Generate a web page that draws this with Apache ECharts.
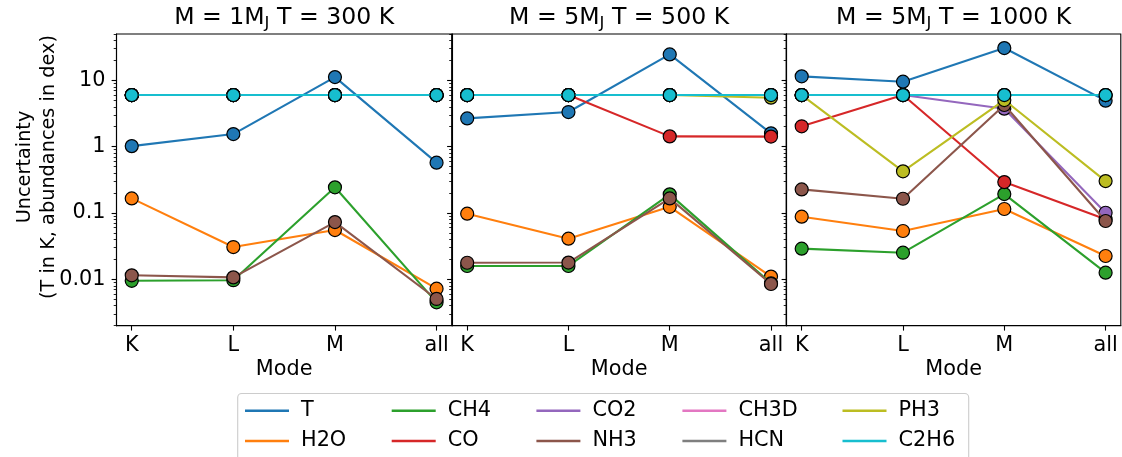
<!DOCTYPE html>
<html>
<head>
<meta charset="utf-8">
<title>Uncertainty per mode</title>
<script src="https://cdn.jsdelivr.net/npm/echarts@6/dist/echarts.min.js"></script>
<style>
  html, body { margin: 0; padding: 0; background: #ffffff; }
  #chart { width: 1122px; height: 457px; }
</style>
</head>
<body>
<div id="chart"></div>
<script>
// ---- data ----------------------------------------------------------------
const modes = ['K', 'L', 'M', 'all'];
const species = ['T', 'H2O', 'CH4', 'CO', 'CO2', 'NH3', 'CH3D', 'HCN', 'PH3', 'C2H6'];
const panelMass = ['1', '5', '5'];
const panelTemp = ['300', '500', '1000'];
const yMajorTicks = [0.01, 0.1, 1, 10];
const yMajorLabels = ['0.01', '0.1', '1', '10'];
const yMinorTicks = [
  0.002, 0.003, 0.004, 0.005, 0.006, 0.007, 0.008, 0.009,
  0.02, 0.03, 0.04, 0.05, 0.06, 0.07, 0.08, 0.09,
  0.2, 0.3, 0.4, 0.5, 0.6, 0.7, 0.8, 0.9,
  2, 3, 4, 5, 6, 7, 8, 9,
  20, 30, 40, 50
];

// One row per species (same order as `species`), one column per mode.
const uncertM1T300 = [
  [1.02, 1.55, 11.2, 0.574],        // T
  [0.166, 0.0307, 0.0554, 0.00723], // H2O
  [0.0095, 0.0097, 0.244, 0.0045],  // CH4
  [6.0, 6.0, 6.0, 6.0],             // CO
  [6.0, 6.0, 6.0, 6.0],             // CO2
  [0.0115, 0.0107, 0.073, 0.00506], // NH3
  [6.0, 6.0, 6.0, 6.0],             // CH3D
  [6.0, 6.0, 6.0, 6.0],             // HCN
  [6.0, 6.0, 6.0, 6.0],             // PH3
  [6.0, 6.0, 6.0, 6.0]              // C2H6
];
const uncertM5T500 = [
  [2.67, 3.33, 24.6, 1.59],         // T
  [0.0977, 0.041, 0.124, 0.011],    // H2O
  [0.0159, 0.0159, 0.191, 0.0087],  // CH4
  [6.0, 6.0, 1.43, 1.42],           // CO
  [6.0, 6.0, 6.0, 6.0],             // CO2
  [0.0178, 0.0179, 0.166, 0.0085],  // NH3
  [6.0, 6.0, 6.0, 6.0],             // CH3D
  [6.0, 6.0, 6.0, 6.0],             // HCN
  [6.0, 6.0, 6.0, 5.48],            // PH3
  [6.0, 6.0, 6.0, 6.0]              // C2H6
];
const uncertM5T1000 = [
  [11.5, 9.55, 30.7, 4.94],         // T
  [0.088, 0.0536, 0.115, 0.0225],   // H2O
  [0.029, 0.0252, 0.193, 0.0126],   // CH4
  [2.03, 6.0, 0.293, 0.0803],       // CO
  [6.0, 6.0, 3.74, 0.101],          // CO2
  [0.227, 0.164, 4.25, 0.0758],     // NH3
  [6.0, 6.0, 6.0, 6.0],             // CH3D
  [6.0, 6.0, 6.0, 6.0],             // HCN
  [6.0, 0.425, 5.05, 0.303],        // PH3
  [6.0, 6.0, 6.0, 6.0]              // C2H6
];
const panels = [uncertM1T300, uncertM5T500, uncertM5T1000];

// ---- styling / layout ------------------------------------------------------
const FONT = 'DejaVu Sans';
const colors = ['#1f77b4', '#ff7f0e', '#2ca02c', '#d62728', '#9467bd',
                '#8c564b', '#e377c2', '#7f7f7f', '#bcbd22', '#17becf'];
const gridBoxes = [
  { left: 116.5, width: 335.3 },
  { left: 452.0, width: 334.2 },
  { left: 786.5, width: 334.3 }
];
const gridTop = 34;
const gridHeight = 291.7;
const legendCols = [245, 391.7, 536.4, 682.4, 842.5];
const legendRows = [410.7, 441];

function fmtY(v) {
  for (let i = 0; i < yMajorTicks.length; i++) {
    if (Math.abs(Math.log10(v) - Math.log10(yMajorTicks[i])) < 1e-6) return yMajorLabels[i];
  }
  return '';
}

const grids = [], xAxes = [], yAxes = [], series = [], titles = [];

gridBoxes.forEach((g, p) => {
  grids.push({
    left: g.left, width: g.width, top: gridTop, height: gridHeight,
    show: true, borderColor: '#000', borderWidth: 1.1, backgroundColor: 'transparent',
    containLabel: false, outerBoundsMode: 'none'
  });

  xAxes.push({
    type: 'value', gridIndex: p, min: -0.15, max: 3.15,
    axisLine: { show: true, onZero: false, lineStyle: { color: '#000', width: 1.1 } },
    axisTick: { show: true, inside: false, length: 4.9, customValues: [0, 1, 2, 3],
                lineStyle: { color: '#000', width: 1.1 } },
    axisLabel: { show: true, customValues: [0, 1, 2, 3], margin: 9,
                 formatter: v => modes[Math.round(v)],
                 fontFamily: FONT, fontSize: 20.8, color: '#000' },
    splitLine: { show: false },
    name: 'Mode', nameLocation: 'middle', nameGap: 33, nameMoveOverlap: false,
    nameTextStyle: { fontFamily: FONT, fontSize: 20.8, color: '#000' }
  });

  // major ticks + labels
  yAxes.push({
    type: 'log', logBase: 10, gridIndex: p, position: 'left', min: 0.002, max: 50,
    axisLine: { show: true, onZero: false, lineStyle: { color: '#000', width: 1.1 } },
    axisTick: { show: true, inside: false, length: 4.9, customValues: yMajorTicks,
                lineStyle: { color: '#000', width: 1.1 } },
    axisLabel: { show: p === 0, customValues: yMajorTicks, margin: 11, formatter: fmtY,
                 fontFamily: FONT, fontSize: 20.8, color: '#000' },
    splitLine: { show: false }, minorTick: { show: false }
  });
  // minor ticks
  yAxes.push({
    type: 'log', logBase: 10, gridIndex: p, position: 'left', min: 0.002, max: 50,
    axisLine: { show: false, onZero: false },
    axisTick: { show: true, inside: false, length: 2.8, customValues: yMinorTicks,
                lineStyle: { color: '#000', width: 0.85 } },
    axisLabel: { show: false },
    splitLine: { show: false }, minorTick: { show: false }
  });

  panels[p].forEach((vals, s) => {
    series.push({
      type: 'line', name: species[s], xAxisIndex: p, yAxisIndex: 2 * p,
      data: vals.map((v, i) => [i, v]),
      z: 3 + s,
      color: colors[s],
      lineStyle: { color: colors[s], width: 2.1 },
      symbol: 'circle', symbolSize: 13, showSymbol: true, showAllSymbol: true,
      itemStyle: { color: colors[s], borderColor: '#000', borderWidth: 1.2 },
      emphasis: { disabled: true },
      clip: false
    });
  });

  const cx = g.left + g.width / 2;
  titles.push({
    type: 'text', x: cx, y: 4, z: 100,
    style: {
      text: '{a|M = ' + panelMass[p] + 'M}{s|J}{a| T = ' + panelTemp[p] + ' K}',
      align: 'center', verticalAlign: 'top',
      rich: {
        a: { fontFamily: FONT, fontSize: 23.6, lineHeight: 28, fill: '#000' },
        s: { fontFamily: FONT, fontSize: 16.5, lineHeight: 16, verticalAlign: 'bottom', fill: '#000' }
      }
    }
  });
});

const legends = species.map((name, i) => ({
  data: [{ name: name, icon: 'rect' }],
  left: legendCols[Math.floor(i / 2)], top: legendRows[i % 2] - 12,
  orient: 'horizontal', padding: 0, itemGap: 0,
  itemWidth: 44, itemHeight: 2.6,
  itemStyle: { borderWidth: 0 },
  selectedMode: false,
  textStyle: { fontFamily: FONT, fontSize: 20.8, color: '#000', lineHeight: 24, padding: [0, 0, 0, 7] }
}));

const graphics = titles.concat([
  // legend frame
  { type: 'rect', z: -1, shape: { x: 237.7, y: 393.5, width: 731, height: 80, r: 4 },
    style: { fill: 'rgba(255,255,255,0.8)', stroke: '#cccccc', lineWidth: 1.1 } },
  // y axis title
  { type: 'text', x: 37, y: 167, rotation: Math.PI / 2, z: 100,
    style: { text: 'Uncertainty\n(T in K, abundances in dex)', align: 'center', verticalAlign: 'middle',
             fontFamily: FONT, fontSize: 19.3, lineHeight: 23.5, fill: '#000' } }
]);

const chart = echarts.init(document.getElementById('chart'), null, { renderer: 'canvas' });
chart.setOption({
  animation: false,
  backgroundColor: '#ffffff',
  grid: grids,
  xAxis: xAxes,
  yAxis: yAxes,
  legend: legends,
  series: series,
  graphic: graphics
});
</script>
</body>
</html>
